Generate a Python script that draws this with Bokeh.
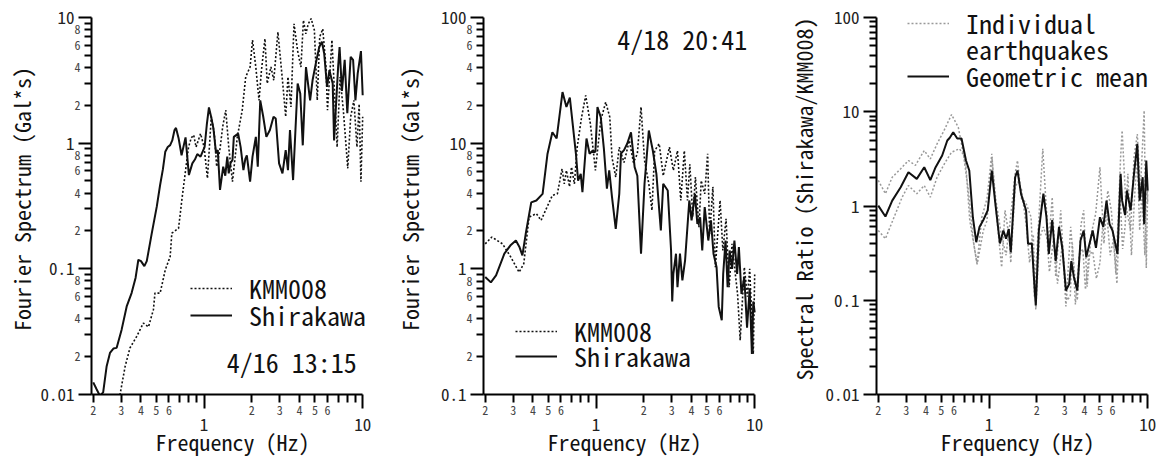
from bokeh.plotting import figure
from bokeh.layouts import row
from bokeh.models import (FixedTicker, CustomJSTickFormatter, Label, LogAxis,
                          Legend, LegendItem)
from bokeh.embed import file_html
from bokeh.resources import INLINE

FONT = "Noto Sans Mono CJK JP, DejaVu Sans Mono"

# ---------------- Panel 1 : 4/16 13:15 ----------------
p1_shirakawa_f = [0.2, 0.21, 0.22, 0.231, 0.243, 0.255, 0.268, 0.281, 0.302, 0.325, 0.349, 0.37,
                  0.385, 0.40, 0.42, 0.435, 0.468, 0.503, 0.528, 0.55, 0.569, 0.59, 0.611, 0.63,
                  0.651, 0.665, 0.69, 0.721, 0.764, 0.802, 0.843, 0.875, 0.906, 0.95, 1.008, 1.04,
                  1.073, 1.11, 1.145, 1.19, 1.22, 1.26, 1.32, 1.36, 1.40, 1.43, 1.47, 1.51, 1.54,
                  1.64, 1.70, 1.77, 1.82, 1.86, 1.95, 2.02, 2.12, 2.18, 2.26, 2.36, 2.47, 2.60,
                  2.74, 2.83, 2.97, 3.12, 3.27, 3.38, 3.48, 3.64, 3.89, 4.04, 4.19, 4.39, 4.66,
                  4.83, 5.06, 5.32, 5.53, 5.72, 5.96, 6.17, 6.47, 6.6, 7.0, 7.15, 7.4, 7.7, 8.0,
                  8.4, 8.7, 9.0, 9.3, 9.75, 10.0]
p1_shirakawa_v = [0.0125, 0.011, 0.0098, 0.0104, 0.0168, 0.0214, 0.0232, 0.0235, 0.0328, 0.0502,
                  0.0641, 0.085, 0.118, 0.115, 0.105, 0.115, 0.192, 0.312, 0.464, 0.62, 0.853,
                  0.93, 0.964, 1.05, 1.27, 1.32, 1.1, 0.80, 1.11, 0.557, 0.69, 0.74, 0.818, 0.78,
                  0.935, 1.4, 1.92, 1.6, 1.31, 0.83, 0.88, 0.424, 0.65, 0.55, 0.78, 0.575, 0.7,
                  0.733, 1.12, 1.19, 0.93, 0.61, 0.75, 0.80, 0.493, 0.78, 1.12, 0.65, 2.19, 1.62,
                  1.12, 1.27, 1.62, 1.57, 0.69, 0.575, 0.88, 0.61, 1.27, 0.508, 2.98, 2.48, 0.96,
                  4.03, 2.19, 3.16, 4.29, 5.8, 6.4, 5.15, 2.80, 3.80, 2.98, 1.05, 4.03, 5.8, 2.6,
                  4.6, 1.73, 4.85, 4.6, 2.19, 3.57, 5.4, 2.4]

p1_kmm_f = [0.28, 0.295, 0.318, 0.341, 0.376, 0.414, 0.446, 0.479, 0.49, 0.528, 0.569, 0.611,
            0.626, 0.69, 0.724, 0.76, 0.798, 0.83, 0.86, 0.89, 0.95, 1.0, 1.05, 1.11, 1.16, 1.2,
            1.26, 1.31, 1.37, 1.43, 1.51, 1.62, 1.74, 1.83, 1.95, 2.02, 2.12, 2.22, 2.30, 2.42,
            2.5, 2.64, 2.75, 2.92, 3.12, 3.27, 3.38, 3.53, 3.69, 3.89, 4.08, 4.23, 4.38, 4.54,
            4.73, 4.96, 5.17, 5.36, 5.6, 5.87, 6.0, 6.4, 6.6, 6.9, 7.2, 7.55, 8.05, 8.4, 8.8,
            9.2, 9.5, 9.75, 10.0]
p1_kmm_v = [0.008, 0.0100, 0.0168, 0.0235, 0.029, 0.037, 0.0345, 0.0473, 0.064, 0.064, 0.098,
            0.125, 0.192, 0.21, 0.353, 0.575, 0.93, 1.1, 1.16, 0.93, 1.19, 0.93, 0.525, 1.62,
            1.19, 0.65, 0.9, 1.35, 1.83, 0.93, 0.493, 1.12, 1.83, 3.36, 4.03, 6.6, 4.0, 2.19,
            3.8, 6.77, 2.98, 4.03, 3.16, 7.65, 3.16, 1.62, 3.36, 1.94, 8.9, 5.4, 4.03, 9.5, 7.4,
            8.9, 9.8, 7.9, 2.19, 7.0, 8.1, 4.03, 1.83, 6.6, 2.98, 0.93, 3.36, 1.83, 0.63, 1.62,
            2.19, 0.93, 2.05, 0.493, 1.62]

# ---------------- Panel 2 : 4/18 20:41 ----------------
p2_shirakawa_f = [0.2, 0.217, 0.234, 0.264, 0.29, 0.312, 0.328, 0.343, 0.36, 0.39, 0.42, 0.46,
                  0.494, 0.53, 0.564, 0.614, 0.65, 0.683, 0.746, 0.77, 0.8, 0.82, 0.87, 0.91,
                  0.95, 0.99, 1.02, 1.07, 1.12, 1.17, 1.21, 1.26, 1.33, 1.4, 1.435, 1.5, 1.57,
                  1.66, 1.75, 1.82, 1.92, 2.02, 2.15, 2.28, 2.4, 2.56, 2.65, 2.83, 2.97, 3.02,
                  3.07, 3.19, 3.26, 3.38, 3.5, 3.64, 3.87, 4.0, 4.2, 4.35, 4.53, 4.67, 4.84, 5.1,
                  5.3, 5.5, 5.75, 5.93, 6.2, 6.33, 6.55, 6.75, 6.95, 7.2, 7.45, 7.75, 7.95, 8.25,
                  8.6, 8.95, 9.3, 9.6, 9.8, 10.0]
p2_shirakawa_v = [0.86, 0.78, 0.886, 1.32, 1.55, 1.68, 1.5, 1.28, 1.9, 3.38, 3.5, 3.95, 8.24,
                  12.2, 10.9, 25.5, 19.4, 23.0, 8.24, 5.04, 5.7, 4.07, 10.9, 8.24, 8.7, 8.5, 19.4,
                  16.1, 9.0, 4.34, 6.07, 3.72, 2.08, 3.95, 8.24, 8.8, 9.9, 12.2, 6.45, 5.5, 1.32,
                  4.75, 12.6, 8.7, 5.7, 2.02, 4.75, 4.2, 1.4, 0.55, 0.91, 1.32, 0.715, 1.32, 0.81,
                  1.17, 3.5, 2.43, 3.95, 2.28, 2.57, 1.4, 3.1, 1.68, 2.43, 1.32, 1.03, 0.5, 0.39,
                  0.91, 1.68, 0.715, 1.4, 1.0, 1.68, 0.91, 1.49, 0.63, 0.86, 0.34, 0.7, 0.21, 0.55,
                  0.45]

p2_kmm_f = [0.2, 0.22, 0.257, 0.29, 0.327, 0.35, 0.378, 0.42, 0.45, 0.48, 0.53, 0.57, 0.61,
            0.63, 0.65, 0.68, 0.7, 0.73, 0.76, 0.81, 0.86, 0.92, 0.99, 1.07, 1.15, 1.22, 1.26,
            1.33, 1.4, 1.5, 1.62, 1.72, 1.82, 1.92, 2.02, 2.15, 2.25, 2.34, 2.5, 2.65, 2.9,
            3.07, 3.26, 3.42, 3.6, 3.77, 3.9, 4.07, 4.23, 4.45, 4.6, 4.84, 5.05, 5.2, 5.45,
            5.65, 6.05, 6.3, 6.6, 6.9, 7.2, 7.55, 7.8, 8.1, 8.6, 9.0, 9.3, 9.8, 10.0]
p2_kmm_v = [1.58, 1.79, 1.58, 1.24, 0.94, 1.1, 2.58, 2.75, 2.43, 2.92, 3.84, 3.95, 6.25, 4.75,
            6.07, 4.5, 6.45, 4.75, 9.3, 16.1, 24.0, 14.3, 6.07, 15.2, 21.2, 16.1, 7.7, 5.37, 9.3,
            7.0, 10.5, 7.0, 8.24, 19.4, 7.3, 4.75, 2.92, 8.7, 9.9, 5.5, 9.3, 6.07, 8.7, 3.5, 8.7,
            3.5, 6.8, 2.6, 5.37, 2.14, 5.04, 3.95, 8.24, 1.9, 4.5, 1.03, 3.5, 1.4, 2.5, 0.715,
            1.58, 0.91, 0.63, 0.27, 1.03, 0.6, 1.0, 0.21, 0.9]

# ---------------- Panel 3 : spectral ratio ----------------
p3_mean_f = [0.2, 0.222, 0.245, 0.277, 0.31, 0.35, 0.39, 0.426, 0.46, 0.506, 0.545, 0.565,
             0.594, 0.63, 0.67, 0.715, 0.75, 0.79, 0.83, 0.87, 0.92, 0.98, 1.04, 1.09, 1.17,
             1.23, 1.28, 1.33, 1.37, 1.46, 1.51, 1.59, 1.71, 1.76, 1.86, 1.94, 1.97, 2.06, 2.2,
             2.3, 2.38, 2.5, 2.63, 2.76, 2.9, 3.05, 3.2, 3.3, 3.42, 3.6, 3.77, 3.95, 4.1, 4.3,
             4.5, 4.72, 5.0, 5.25, 5.5, 5.75, 6.0, 6.45, 6.75, 6.9, 7.2, 7.4, 7.8, 8.2, 8.6,
             8.9, 9.3, 9.5, 9.8, 10.0]
p3_mean_v = [1.01, 0.774, 1.14, 1.58, 2.28, 1.94, 2.58, 1.88, 2.58, 3.43, 4.95, 5.3, 6.07, 5.2,
             5.2, 3.04, 2.38, 0.76, 0.413, 0.6, 0.71, 0.9, 2.38, 1.14, 0.4, 0.55, 0.45, 0.57,
             0.324, 2.02, 2.38, 1.35, 0.9, 0.397, 0.4, 0.127, 0.088, 0.55, 1.35, 0.76, 0.31,
             0.71, 0.26, 0.6, 0.35, 0.127, 0.149, 0.26, 0.178, 0.127, 0.43, 0.55, 0.286, 0.4,
             0.55, 0.36, 0.76, 0.6, 1.14, 0.64, 0.55, 0.31, 2.2, 1.14, 0.8, 1.46, 0.9, 2.2, 4.57,
             1.14, 2.02, 0.64, 3.04, 1.46]

p3_eq1_f = [0.2, 0.222, 0.245, 0.277, 0.31, 0.343, 0.39, 0.426, 0.47, 0.52, 0.58, 0.64, 0.715,
            0.755, 0.84, 0.9, 0.97, 1.04, 1.1, 1.2, 1.26, 1.33, 1.46, 1.51, 1.6, 1.7, 1.84,
            1.93, 2.05, 2.18, 2.28, 2.38, 2.5, 2.63, 2.83, 3.05, 3.27, 3.45, 3.6, 3.8, 3.95,
            4.15, 4.4, 4.7, 5.0, 5.3, 5.6, 5.9, 6.3, 6.75, 6.9, 7.3, 7.8, 8.2, 8.6, 9.0, 9.5,
            9.8, 10.0]
p3_eq1_v = [1.87, 1.35, 2.02, 2.48, 3.04, 2.7, 3.88, 3.16, 4.57, 6.33, 9.35, 6.8, 2.58, 0.71,
            0.244, 0.76, 1.2, 3.58, 0.98, 0.224, 0.9, 0.5, 2.2, 3.04, 1.2, 1.1, 0.76, 0.11, 0.64,
            4.05, 1.14, 0.4, 1.24, 0.178, 0.9, 0.086, 0.6, 0.2, 0.1, 0.64, 0.9, 0.139, 0.5,
            0.83, 2.58, 0.4, 1.46, 0.9, 0.19, 3.3, 6.33, 1.0, 0.55, 3.3, 5.8, 1.5, 10.3, 0.22,
            1.5]

p3_eq2_f = [0.2, 0.222, 0.25, 0.283, 0.31, 0.35, 0.39, 0.426, 0.47, 0.53, 0.58, 0.65, 0.69,
            0.74, 0.8, 0.84, 0.92, 0.97, 1.04, 1.1, 1.2, 1.28, 1.33, 1.37, 1.46, 1.52, 1.6,
            1.72, 1.8, 1.9, 1.97, 2.08, 2.2, 2.32, 2.4, 2.55, 2.7, 2.9, 3.1, 3.25, 3.35, 3.5,
            3.7, 3.9, 4.05, 4.25, 4.5, 4.75, 5.0, 5.2, 5.5, 5.8, 6.1, 6.4, 6.7, 6.95, 7.2, 7.5,
            7.9, 8.3, 8.6, 8.9, 9.2, 9.6, 9.85, 10.0]
p3_eq2_v = [0.55, 0.45, 0.74, 1.24, 1.65, 1.35, 1.65, 1.24, 2.02, 2.92, 3.72, 4.05, 3.5, 1.46,
            0.4, 0.24, 0.55, 0.7, 3.3, 1.2, 0.47, 0.3, 0.55, 0.25, 1.6, 1.8, 1.5, 0.6, 0.25,
            0.5, 0.08, 0.45, 0.6, 0.45, 0.2, 0.45, 0.15, 0.4, 0.1, 0.11, 0.4, 0.09, 0.3, 0.35,
            0.13, 0.3, 0.33, 0.17, 0.25, 0.6, 0.9, 0.3, 0.45, 0.15, 1.3, 0.35, 0.6, 2.2, 0.3,
            1.4, 3.5, 0.55, 1.4, 0.3, 2.0, 1.1]

# ---------------- ticks ----------------
x_major = [1, 10]
x_minor = [0.2, 0.3, 0.4, 0.5, 0.6, 0.7, 0.8, 0.9, 2, 3, 4, 5, 6, 7, 8, 9]
x_minor_lab = [0.2, 0.3, 0.4, 0.5, 0.6, 2, 3, 4, 5, 6]

y1_major = [0.01, 0.1, 1, 10]
y1_minor = [0.02, 0.03, 0.04, 0.05, 0.06, 0.07, 0.08, 0.09,
            0.2, 0.3, 0.4, 0.5, 0.6, 0.7, 0.8, 0.9,
            2, 3, 4, 5, 6, 7, 8, 9]
y1_minor_lab = [0.02, 0.04, 0.06, 0.08, 0.2, 0.4, 0.6, 0.8, 2, 4, 6, 8]
y2_major = [0.1, 1, 10, 100]
y2_minor = [0.2, 0.3, 0.4, 0.5, 0.6, 0.7, 0.8, 0.9,
            2, 3, 4, 5, 6, 7, 8, 9,
            20, 30, 40, 50, 60, 70, 80, 90]
y2_minor_lab = [0.2, 0.4, 0.6, 0.8, 2, 4, 6, 8, 20, 40, 60, 80]
y3_major = [0.01, 0.1, 1, 10, 100]
y3_minor = [0.02, 0.03, 0.04, 0.05, 0.06, 0.07, 0.08, 0.09,
            0.2, 0.3, 0.4, 0.5, 0.6, 0.7, 0.8, 0.9,
            2, 3, 4, 5, 6, 7, 8, 9,
            20, 30, 40, 50, 60, 70, 80, 90]

FMT = CustomJSTickFormatter(code="return String(parseFloat(tick.toPrecision(3)));")
DIGIT = CustomJSTickFormatter(
    code="return String(Math.round(tick / Math.pow(10, Math.floor(Math.log10(tick) + 1e-9))));")
X_START, X_END = 0.195, 11.7
X_LABEL = "Frequency (Hz)"


def style_text(ax, size, color="#222222"):
    ax.major_label_text_font = FONT
    ax.major_label_text_font_size = size
    ax.major_label_text_color = color
    ax.axis_label_text_font = FONT
    ax.axis_label_text_font_size = "22px"
    ax.axis_label_text_font_style = "normal"
    ax.axis_label_text_color = "#111111"


def label_axis(ticks, standoff, label, label_standoff):
    ax = LogAxis(ticker=FixedTicker(ticks=ticks, minor_ticks=[]), formatter=DIGIT,
                 axis_line_color=None, major_tick_line_color=None,
                 minor_tick_line_color=None, major_tick_out=0, major_tick_in=0,
                 minor_tick_out=0, minor_tick_in=0, major_label_standoff=standoff,
                 axis_label=label, axis_label_standoff=label_standoff)
    style_text(ax, "12px", "#444444")
    return ax


def make_panel(width, left, right, yr, ybounds, y_major, y_minor, y_label, y_minor_lab,
               y_lab_standoff, y_axlab_standoff):
    p = figure(width=width, height=459, x_axis_type="log", y_axis_type="log",
               x_range=(X_START, X_END), y_range=yr, output_backend="svg",
               toolbar_location=None, min_border_left=left, min_border_right=right,
               min_border_top=3, min_border_bottom=65)
    p.outline_line_color = None
    p.grid.visible = False
    p.border_fill_color = "white"

    xa = p.xaxis[0]
    xa.bounds = (X_START, 10)
    xa.ticker = FixedTicker(ticks=x_major, minor_ticks=x_minor)
    xa.formatter = FMT
    xa.axis_line_width = 2
    xa.major_tick_line_width = 2
    xa.minor_tick_line_width = 2
    xa.major_tick_in = 0
    xa.minor_tick_in = 0
    xa.major_tick_out = 14
    xa.minor_tick_out = 8
    xa.major_label_standoff = 9
    style_text(xa, "17px")
    # outer axis carrying the small minor-tick labels and the axis title
    p.add_layout(label_axis(x_minor_lab, -28, X_LABEL, 7), "below")

    ya = p.yaxis[0]
    ya.bounds = ybounds
    ya.ticker = FixedTicker(ticks=y_major, minor_ticks=y_minor)
    ya.formatter = FMT
    ya.axis_line_width = 2
    ya.major_tick_line_width = 2
    ya.minor_tick_line_width = 2
    ya.major_tick_in = 0
    ya.minor_tick_in = 0
    ya.major_tick_out = 13
    ya.minor_tick_out = 7
    ya.major_label_standoff = 4
    style_text(ya, "17px")
    if y_minor_lab:
        p.add_layout(label_axis(y_minor_lab, y_lab_standoff, y_label, y_axlab_standoff), "left")
    else:
        ya.axis_label = y_label
        ya.axis_label_standoff = y_axlab_standoff
    return p


def legend_item(p, label, rend, vx, vy):
    leg = Legend(items=[LegendItem(label=label, renderers=[rend])], location=(vx, vy),
                 padding=0, margin=0, spacing=0, border_line_color=None,
                 background_fill_alpha=0, glyph_width=42, glyph_height=20,
                 label_height=20, label_standoff=17, label_text_font=FONT,
                 label_text_font_size="26px", label_text_color="#111111")
    p.add_layout(leg)


# Panel 1
p1 = make_panel(390, 91, 17, (0.01, 12.9), (0.01, 10), y1_major, y1_minor,
                "Fourier Spectrum (Gal*s)", y1_minor_lab, -43, 34)
r1k = p1.line(p1_kmm_f, p1_kmm_v, line_color="#111111", line_width=1.6, line_dash="2 2")
r1s = p1.line(p1_shirakawa_f, p1_shirakawa_v, line_color="#111111", line_width=2)
legend_item(p1, "KMM008", r1k, 99, 88)
legend_item(p1, "Shirakawa", r1s, 99, 61)
p1.add_layout(Label(x=1.39, y=0.0183, text="4/16 13:15", text_font=FONT,
                    text_font_size="26px", text_baseline="middle", text_color="#111111"))

# Panel 2
p2 = make_panel(385, 93, 10, (0.1, 129.2), (0.1, 100), y2_major, y2_minor,
                "Fourier Spectrum (Gal*s)", y2_minor_lab, -34, 38)
r2k = p2.line(p2_kmm_f, p2_kmm_v, line_color="#111111", line_width=1.6, line_dash="2 2")
r2s = p2.line(p2_shirakawa_f, p2_shirakawa_v, line_color="#111111", line_width=2)
legend_item(p2, "KMM008", r2k, 32, 45)
legend_item(p2, "Shirakawa", r2s, 32, 20)
p2.add_layout(Label(x=1.36, y=68.0, text="4/18 20:41", text_font=FONT,
                    text_font_size="26px", text_baseline="middle", text_color="#111111"))

# Panel 3
p3 = make_panel(388, 101, 5, (0.01, 140.8), (0.01, 100), y3_major, y3_minor,
                "Spectral Ratio (Shirakawa/KMM008)", None, 0, 4)
r3a = p3.line(p3_eq1_f, p3_eq1_v, line_color="#999999", line_width=1.5, line_dash="2 2")
r3b = p3.line(p3_eq2_f, p3_eq2_v, line_color="#999999", line_width=1.5, line_dash="2 2")
r3m = p3.line(p3_mean_f, p3_mean_v, line_color="#111111", line_width=2)
r3blank = p3.line([], [], line_alpha=0)
legend_item(p3, "Individual", r3a, 31, 353)
legend_item(p3, "earthquakes", r3blank, 31, 327)
legend_item(p3, "Geometric mean", r3m, 31, 300)

layout = row(p1, p2, p3)
open("out.html", "w").write(file_html(layout, INLINE))
